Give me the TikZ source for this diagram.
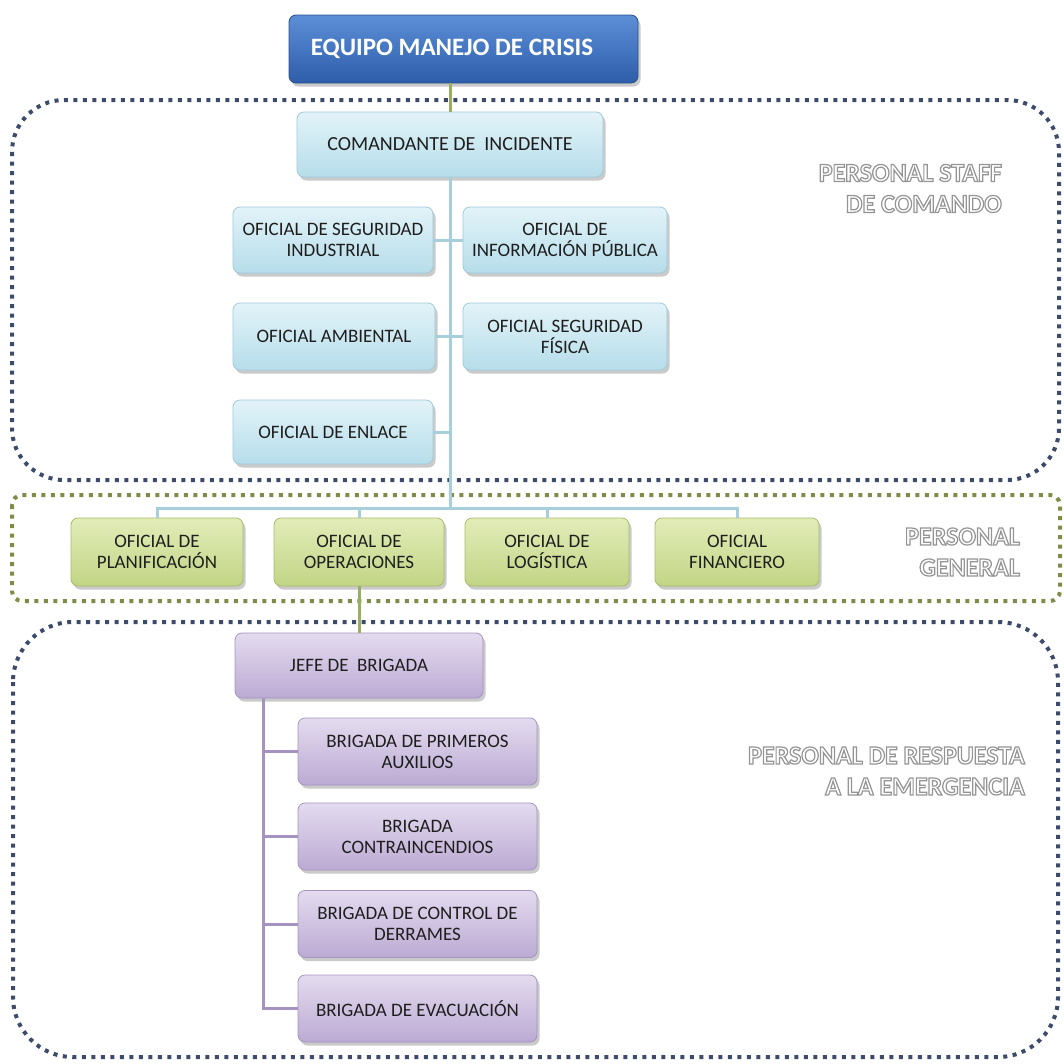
\documentclass[tikz,border=0pt]{standalone}
\usepackage{fontspec}
\setmainfont{Carlito}
\usetikzlibrary{shadows}

\definecolor{blueTop}{HTML}{5C8FD8}
\definecolor{blueBot}{HTML}{2E5DAA}
\definecolor{blueDraw}{HTML}{2A4F8C}
\definecolor{lbTop}{HTML}{E2F3F8}
\definecolor{lbBot}{HTML}{B6DDEA}
\definecolor{lbDraw}{HTML}{A0CADA}
\definecolor{grTop}{HTML}{E2ECB8}
\definecolor{grBot}{HTML}{C2D585}
\definecolor{grDraw}{HTML}{A8BB6A}
\definecolor{puTop}{HTML}{E4DBEF}
\definecolor{puBot}{HTML}{BBAAD3}
\definecolor{puDraw}{HTML}{A594C2}
\definecolor{conBlue}{HTML}{A7CEDB}
\definecolor{conGreen}{HTML}{99AE5E}
\definecolor{conPurple}{HTML}{A493C1}
\definecolor{navyDot}{HTML}{3D4B6B}
\definecolor{greenDot}{HTML}{7D8D48}
\definecolor{txt}{HTML}{1E1E1E}

% white lettering with a grey outline
\newcommand\emb[1]{\leavevmode
  \special{pdf:literal direct 2 Tr 1.2 w 0.58 G}#1\special{pdf:literal direct 0 Tr}}

\begin{document}
\begin{tikzpicture}[x=1pt,y=-1pt,
  box/.style={rounded corners=7pt, inner sep=2pt, align=center, text=txt,
    font=\fontsize{19}{21}\selectfont, line width=0.8pt,
    drop shadow={shadow xshift=2.5pt, shadow yshift=-3.5pt, opacity=0.35, fill=black!60}},
  headbox/.style={box, top color=blueTop, bottom color=blueBot, draw=blueDraw,
    text=white, font=\bfseries\fontsize{25}{28}\selectfont},
  staffbox/.style={box, top color=lbTop, bottom color=lbBot, draw=lbDraw},
  genbox/.style={box, top color=grTop, bottom color=grBot, draw=grDraw},
  brigbox/.style={box, top color=puTop, bottom color=puBot, draw=puDraw},
  dotframe/.style={line width=4pt, line cap=butt, dash pattern=on 4pt off 5.5pt},
  conn/.style={line width=3pt},
  grouplabel/.style={inner sep=0pt, text=white, font=\bfseries\fontsize{26}{31}\selectfont, align=right}
]
\useasboundingbox (0,0) rectangle (1064,1063);

% dotted group frames
\draw[dotframe, navyDot, rounded corners=52pt] (12,100) rectangle (1059,480);
\draw[dotframe, greenDot, rounded corners=10pt] (12,495) rectangle (1060,601);
\draw[dotframe, navyDot, rounded corners=60pt] (13,622) rectangle (1058,1057);

% group labels
\node[grouplabel, anchor=east] (lstaff) at (1002,188.5) {\emb{PERSONAL STAFF}\\\emb{DE COMANDO}};
\node[grouplabel, anchor=east] (lgen) at (1020,552) {\emb{PERSONAL}\\\emb{GENERAL}};
\node[grouplabel, anchor=east] (lresp) at (1025,771) {\emb{PERSONAL DE RESPUESTA}\\\emb{A LA EMERGENCIA}};

% crisis team and incident commander
\node[headbox, minimum width=349pt, minimum height=68pt] (equipo) at (463.5,49)
  {EQUIPO MANEJO DE CRISIS\hspace*{23pt}};
\node[staffbox, font=\fontsize{20}{22}\selectfont, minimum width=306pt, minimum height=65pt] (comandante) at (450,144.5)
  {COMANDANTE DE\ \ INCIDENTE};

% command staff
\node[staffbox, minimum width=200pt, minimum height=66pt] (segind) at (333,240) {OFICIAL DE SEGURIDAD\\INDUSTRIAL};
\node[staffbox, minimum width=204pt, minimum height=66pt] (infopub) at (565,240) {OFICIAL DE\\INFORMACIÓN PÚBLICA};
\node[staffbox, minimum width=202pt, minimum height=67pt] (ambiental) at (334,336.5) {OFICIAL AMBIENTAL};
\node[staffbox, minimum width=204pt, minimum height=67pt] (segfis) at (565,336.5) {OFICIAL SEGURIDAD\\FÍSICA};
\node[staffbox, minimum width=200pt, minimum height=64pt] (enlace) at (333,432) {OFICIAL DE ENLACE};

% general staff
\node[genbox, minimum width=172pt, minimum height=68pt] (planif) at (157,552) {OFICIAL DE\\PLANIFICACIÓN};
\node[genbox, minimum width=170pt, minimum height=68pt] (oper) at (359,552) {OFICIAL DE\\OPERACIONES};
\node[genbox, minimum width=164pt, minimum height=68pt] (logist) at (547,552) {OFICIAL DE\\LOGÍSTICA};
\node[genbox, minimum width=164pt, minimum height=68pt] (financ) at (737,552) {OFICIAL\\FINANCIERO};

% response brigades
\node[brigbox, minimum width=248pt, minimum height=65pt] (jefe) at (359,665.5) {JEFE DE\ \ BRIGADA};
\node[brigbox, minimum width=239pt, minimum height=67pt] (primeros) at (417.5,751.5) {BRIGADA DE PRIMEROS\\AUXILIOS};
\node[brigbox, minimum width=239pt, minimum height=67pt] (contra) at (417.5,836.5) {BRIGADA\\CONTRAINCENDIOS};
\node[brigbox, minimum width=239pt, minimum height=67pt] (derrames) at (417.5,924) {BRIGADA DE CONTROL DE\\DERRAMES};
\node[brigbox, minimum width=239pt, minimum height=67pt] (evac) at (417.5,1008.5) {BRIGADA DE EVACUACIÓN};

% connectors
\coordinate (bus) at (450,508);
\coordinate (jt) at (263,698);

\draw[conn, conGreen] (comandante.north |- equipo.south) -- (comandante.north);

\draw[conn, conBlue] (comandante.south) -- (bus);
\draw[conn, conBlue] (segind.east) -- (segind.east -| bus);
\draw[conn, conBlue] (infopub.west) -- (infopub.west -| bus);
\draw[conn, conBlue] (ambiental.east) -- (ambiental.east -| bus);
\draw[conn, conBlue] (segfis.west) -- (segfis.west -| bus);
\draw[conn, conBlue] (enlace.east) -- (enlace.east -| bus);
\draw[conn, conBlue] (planif.north) -- (planif.north |- bus) -- (financ.north |- bus) -- (financ.north);
\draw[conn, conBlue] (oper.north) -- (oper.north |- bus);
\draw[conn, conBlue] (logist.north) -- (logist.north |- bus);

\draw[conn, conGreen] (oper.south) -- (jefe.north);

\draw[conn, conPurple] (jt) -- (jt |- evac.west) -- (evac.west);
\draw[conn, conPurple] (jt |- primeros.west) -- (primeros.west);
\draw[conn, conPurple] (jt |- contra.west) -- (contra.west);
\draw[conn, conPurple] (jt |- derrames.west) -- (derrames.west);
\end{tikzpicture}
\end{document}
